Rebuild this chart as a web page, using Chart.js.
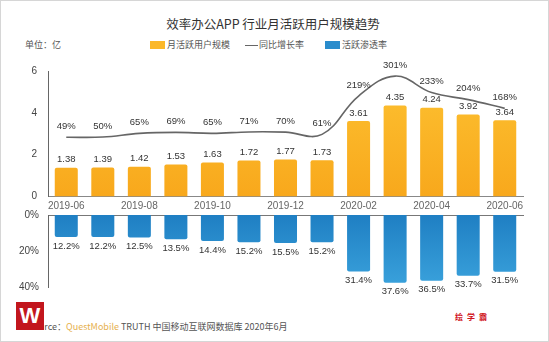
<!DOCTYPE html>
<html><head><meta charset="utf-8">
<script src="https://cdn.jsdelivr.net/npm/chart.js@4"></script>
<style>
body{margin:0;background:#fff;}
#wrap{position:relative;width:549px;height:342px;overflow:hidden;font-family:"Noto Sans CJK SC","Liberation Sans",sans-serif;color:#444;}
#frame{position:absolute;left:0;top:0;width:549px;height:342px;box-sizing:border-box;border:1px solid #d6d6d6;pointer-events:none;}
.abs{position:absolute;white-space:nowrap;line-height:1;}
#title{left:0;width:546px;top:18px;text-align:center;font-size:12.5px;color:#333;}
#unit{left:25px;top:40px;font-size:9px;color:#555;}
.lg{top:40px;font-size:9px;color:#555;}
.box{position:absolute;width:15px;height:8px;top:41px;}
#c1{position:absolute;left:0;top:54px;}
#c2{position:absolute;left:0;top:200px;}
#src{left:28px;top:322px;font-size:9px;color:#555;}
#logo{left:16px;top:302px;width:28px;height:28px;background:#c2161d;color:#fff;font:bold 22px "Liberation Sans",sans-serif;text-align:center;line-height:28px;}
#brand{left:455px;top:313px;font-size:8px;font-weight:bold;color:#d0121b;letter-spacing:4px;}
</style></head>
<body>
<div id="wrap">
  <div id="title" class="abs">效率办公APP 行业月活跃用户规模趋势</div>
  <div id="unit" class="abs">单位：亿</div>
  <div class="box" style="left:150px;background:#fbb829;"></div>
  <div class="abs lg" style="left:167px;">月活跃用户规模</div>
  <div class="box" style="left:245px;top:44.5px;height:1.5px;width:13px;background:#666;"></div>
  <div class="abs lg" style="left:259px;">同比增长率</div>
  <div class="box" style="left:325px;background:#2a8ccc;"></div>
  <div class="abs lg" style="left:342px;">活跃渗透率</div>
  <canvas id="c1" width="549" height="166" style="width:549px;height:166px;"></canvas>
  <canvas id="c2" width="549" height="102" style="width:549px;height:102px;"></canvas>
  <div id="src" class="abs">Source：<span style="color:#e6b04e;">QuestMobile</span> TRUTH 中国移动互联网数据库 2020年6月</div>
  <div id="logo" class="abs">W</div>
  <div id="brand" class="abs">绘学霸</div>
  <div id="frame"></div>
</div>
<script>
const months = ["2019-06","2019-07","2019-08","2019-09","2019-10","2019-11","2019-12","2020-01","2020-02","2020-03","2020-04","2020-05","2020-06"];
const mau = [1.38,1.39,1.42,1.53,1.63,1.72,1.77,1.73,3.61,4.35,4.24,3.92,3.64];
const yoyGrowth = [49,50,65,69,65,71,70,61,219,301,233,204,168];
const penetration = [12.2,12.2,12.5,13.5,14.4,15.2,15.5,15.2,31.4,37.6,36.5,33.7,31.5];
const mauTicks = [0,2,4,6];
const penTicks = [0,20,40];

const numFont = '9.5px "Liberation Sans", Arial, sans-serif';

const valueLabels = {
  id:'valueLabels',
  afterDatasetsDraw(chart){
    const ctx = chart.ctx;
    chart.data.datasets.forEach((ds,i)=>{
      const meta = chart.getDatasetMeta(i);
      meta.data.forEach((el,j)=>{
        ctx.save();
        ctx.font = numFont;
        ctx.fillStyle = '#333';
        ctx.textAlign = 'center';
        ctx.textBaseline = 'middle';
        ctx.fillText(ds.fmt(ds.data[j]), el.x, el.y + ds.labelOffset);
        ctx.restore();
      });
    });
  }
};

function grad(ctx, top, bottom){
  const ca = ctx.chart.chartArea;
  if(!ca) return top;
  const g = ctx.chart.ctx.createLinearGradient(0, ca.top, 0, ca.bottom);
  g.addColorStop(0, top); g.addColorStop(1, bottom);
  return g;
}

Chart.defaults.animation = false;
Chart.defaults.font.family = '"Liberation Sans", Arial, sans-serif';

new Chart(document.getElementById('c1'), {
  type:'bar',
  data:{
    labels: months,
    datasets:[
      {type:'line', data: yoyGrowth, yAxisID:'y2', borderColor:'#666', borderWidth:1.6, pointRadius:0, tension:0.4, order:1, fmt:v=>v+'%', labelOffset:-11},
      {type:'bar', data: mau, yAxisID:'y', backgroundColor:c=>grad(c,'#fdc232','#f8a81c'), barPercentage:0.9, categoryPercentage:0.7, borderRadius:2, borderSkipped:'bottom', order:2, fmt:v=>v.toFixed(2), labelOffset:-8}
    ]
  },
  options:{
    responsive:false,
    layout:{padding:{top:0,right:26,left:0,bottom:0}},
    plugins:{legend:{display:false},tooltip:{enabled:false}},
    scales:{
      x:{
        grid:{display:false,drawTicks:false},
        border:{display:true,color:'#888',width:1},
        ticks:{autoSkip:false,maxRotation:0,minRotation:0,padding:4,color:'#666',font:{size:10},
          callback:function(v,i){return i%2===0?this.getLabelForValue(v):'';}},
        afterFit:s=>{s.height=23.5;}
      },
      y:{
        min:0,max:6,
        afterBuildTicks:s=>{s.ticks=mauTicks.map(v=>({value:v}));},
        grid:{display:false,drawTicks:false},
        border:{display:true,color:'#666',width:1},
        ticks:{color:'#444',font:{size:10},padding:11},
        afterFit:s=>{s.width=48;}
      },
      y2:{display:false,min:-195,max:322}
    }
  },
  plugins:[valueLabels]
});

new Chart(document.getElementById('c2'), {
  type:'bar',
  data:{
    labels: months,
    datasets:[
      {data: penetration, backgroundColor:c=>grad(c,'#1f7fc3','#3aa2dc'), barPercentage:0.9, categoryPercentage:0.7, borderRadius:2, borderSkipped:'start', fmt:v=>v.toFixed(1)+'%', labelOffset:9}
    ]
  },
  options:{
    responsive:false,
    layout:{padding:{top:0,right:26,left:0,bottom:0}},
    plugins:{legend:{display:false},tooltip:{enabled:false}},
    scales:{
      x:{
        position:'top',
        grid:{display:false,drawTicks:false},
        border:{display:true,color:'#777',width:1},
        ticks:{display:false},
        afterFit:s=>{s.height=0;}
      },
      y:{
        reverse:true,min:0,max:40,
        afterBuildTicks:s=>{s.ticks=penTicks.map(v=>({value:v}));},
        grid:{display:false,drawTicks:false},
        border:{display:true,color:'#666',width:1},
        ticks:{color:'#444',font:{size:10},padding:9,callback:v=>v+'%'},
        afterFit:s=>{s.width=48;}
      }
    }
  },
  plugins:[valueLabels]
});
</script>
</body></html>
